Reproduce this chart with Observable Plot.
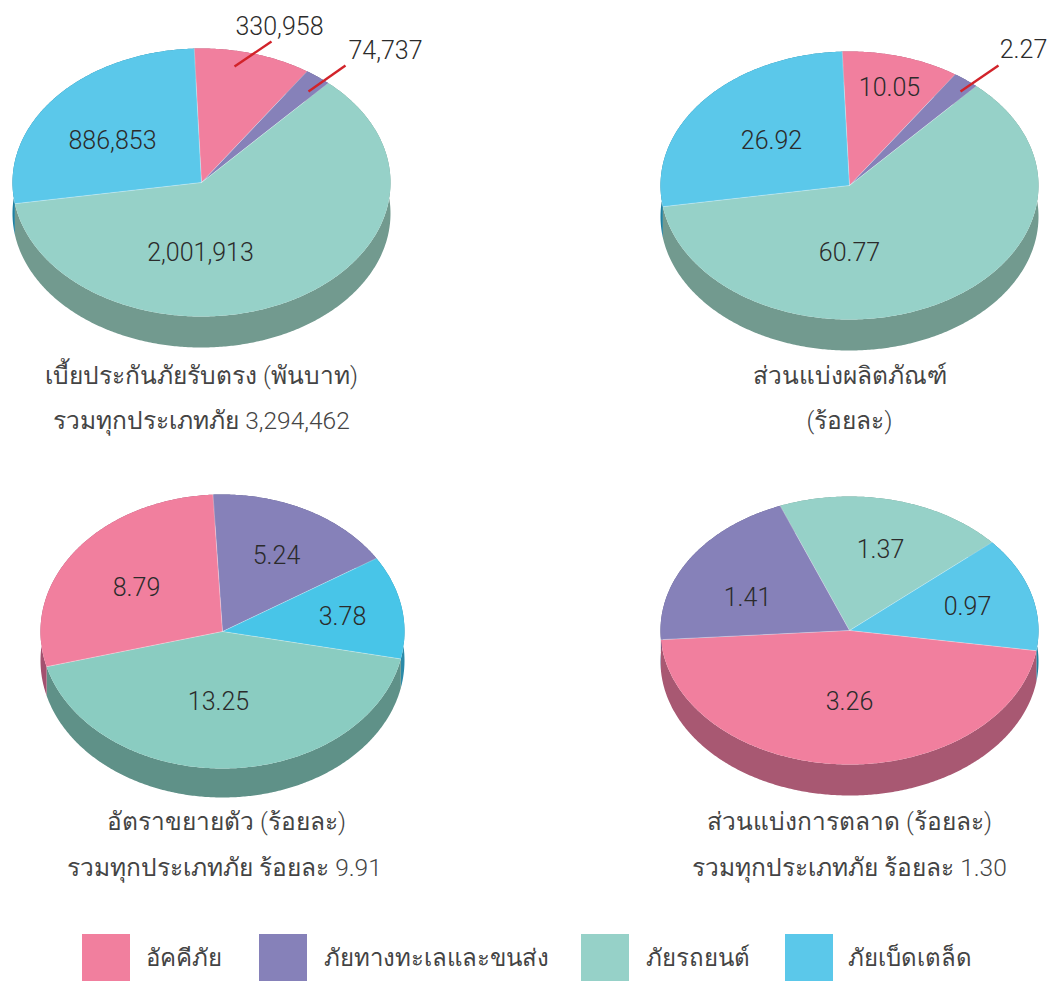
<!DOCTYPE html>
<html>
<head>
<meta charset="utf-8">
<script src="https://cdn.jsdelivr.net/npm/d3@7"></script>
<script src="https://cdn.jsdelivr.net/npm/@observablehq/plot@0.6"></script>
<style>html,body{margin:0;padding:0;background:#fff}svg{display:block}</style>
</head>
<body>
<div id="chart"></div>
<script>
// ---- data ----
const categories = ["อัคคีภัย", "ภัยทางทะเลและขนส่ง", "ภัยรถยนต์", "ภัยเบ็ดเตล็ด"];
const premiums = [330958, 74737, 2001913, 886853];
const shares = [10.05, 2.27, 60.77, 26.92];
const growth = [8.79, 5.24, 13.25, 3.78];
const marketShare = [3.26, 1.41, 1.37, 0.97];
const premiumLabels = ["330,958", "74,737", "2,001,913", "886,853"];
const shareLabels = ["10.05", "2.27", "60.77", "26.92"];
const growthLabels = ["8.79", "5.24", "13.25", "3.78"];
const marketLabels = ["3.26", "1.41", "1.37", "0.97"];
const titles = [
  ["เบี้ยประกันภัยรับตรง (พันบาท)", "รวมทุกประเภทภัย 3,294,462"],
  ["ส่วนแบ่งผลิตภัณฑ์", "(ร้อยละ)"],
  ["อัตราขยายตัว (ร้อยละ)", "รวมทุกประเภทภัย ร้อยละ 9.91"],
  ["ส่วนแบ่งการตลาด (ร้อยละ)", "รวมทุกประเภทภัย ร้อยละ 1.30"]
];

// ---- styles & layout ----
const topColors = ["#f17f9e", "#8681b9", "#96d1c8", "#5bc8ea"];
const sideColors = ["#a85872", "#5c5a85", "#729a8f", "#1f80a0"];
const top3 = ["#f17f9e", "#8681b9", "#8accc1", "#48c5e8"];
const side3 = ["#a3506f", "#5c5a85", "#5f9188", "#2b8aa8"];
const ink = "#2b2b2b";
const titleInk = "#444444";
const font = "Roboto, 'Noto Sans', sans-serif";
const layout = [
  {values: premiums, labels: premiumLabels, order: [0,1,2,3], start: -2.2, cx: 201, cy: 182, rx: 189, ry: 134, depth: 31, top: topColors, side: sideColors,
   titleX: [201, 201], titleY: [376, 421],
   anchors: [[279,26],[385,50],[200,252],[112,140]], leaders: [[234,66,271,41],[308,91,345,65]]},
  {values: shares, labels: shareLabels, order: [0,1,2,3], start: -2.2, cx: 849, cy: 185, rx: 189, ry: 134, depth: 31, top: topColors, side: sideColors,
   titleX: [849, 849], titleY: [376, 421],
   anchors: [[889,87],[1023,49],[849,252],[771,140]], leaders: [[960,91,998,65]]},
  {values: growth, labels: growthLabels, order: [1,3,2,0], start: -3, cx: 222, cy: 631, rx: 182, ry: 137, depth: 29, top: top3, side: side3,
   titleX: [226, 224], titleY: [822, 868],
   anchors: [[136,587],[276,555],[218,701],[342,616]], leaders: []},
  {values: marketShare, labels: marketLabels, order: [2,3,0,1], start: -21.5, cx: 849, cy: 630, rx: 189, ry: 134, depth: 31, top: topColors, side: sideColors,
   titleX: [849, 849], titleY: [822, 868],
   anchors: [[849,701],[747,597],[880,549],[967,606]], leaders: []}
];
const legendLayout = {x: [82, 259, 581, 785], w: 48, y1: 934, y2: 981, textX: [145, 323, 645, 847], textY: 958};

// ---- geometry from values ----
const tops = [], sides = [], seams = [], labels = [], leaders = [], titleRows = [];
layout.forEach((p, pi) => {
  const startRad = p.start * Math.PI / 180;
  const arcs = d3.pie().sort(null).startAngle(startRad).endAngle(startRad + 2 * Math.PI)(p.order.map(i => p.values[i]));
  arcs.forEach((a, k) => {
    const cat = p.order[k];
    const n = Math.max(2, Math.ceil((a.endAngle - a.startAngle) / 0.01));
    const rim = d3.range(n + 1).map(j => {
      const t = a.startAngle + (a.endAngle - a.startAngle) * j / n;
      return [p.cx + p.rx * Math.sin(t), p.cy - p.ry * Math.cos(t)];
    });
    const key = pi + "-" + cat;
    sides.push(...rim.map(([x, y]) => ({x, y, key, fill: p.side[cat]})));
    sides.push(...rim.slice().reverse().map(([x, y]) => ({x, y: y + p.depth, key, fill: p.side[cat]})));
    tops.push({x: p.cx, y: p.cy, key, fill: p.top[cat]});
    tops.push(...rim.map(([x, y]) => ({x, y, key, fill: p.top[cat]})));
    seams.push({x1: p.cx, y1: p.cy, x2: rim[0][0], y2: rim[0][1]});
    labels.push({x: p.anchors[cat][0], y: p.anchors[cat][1], text: p.labels[cat]});
  });
  p.leaders.forEach(([x1, y1, x2, y2]) => leaders.push({x1, y1, x2, y2}));
  titles[pi].forEach((text, i) => titleRows.push({x: p.titleX[i], y: p.titleY[i], text}));
});
const legendRows = categories.map((name, i) => ({
  name, fill: topColors[i],
  x1: legendLayout.x[i], x2: legendLayout.x[i] + legendLayout.w,
  y1: legendLayout.y1, y2: legendLayout.y2,
  tx: legendLayout.textX[i], ty: legendLayout.textY
}));

const chart = Plot.plot({
  width: 1049, height: 989, margin: 0,
  style: {background: "#fff", fontFamily: font},
  x: {domain: [0, 1049], range: [0, 1049], axis: null},
  y: {domain: [0, 989], range: [0, 989], axis: null},
  color: {type: "identity"},
  marks: [
    Plot.line(sides, {x: "x", y: "y", z: "key", fill: "fill", stroke: "none", curve: "linear"}),
    Plot.line(tops, {x: "x", y: "y", z: "key", fill: "fill", stroke: "none", curve: "linear"}),
    Plot.link(seams, {x1: "x1", y1: "y1", x2: "x2", y2: "y2", stroke: "#fff", strokeOpacity: 0.45, strokeWidth: 0.7}),
    Plot.link(leaders, {x1: "x1", y1: "y1", x2: "x2", y2: "y2", stroke: "#d2232a", strokeWidth: 2.4}),
    Plot.text(labels, {x: "x", y: "y", text: "text", fontSize: 25, fontWeight: 300, fill: ink, textAnchor: "middle", lineAnchor: "middle", fontFamily: font}),
    Plot.text(titleRows, {x: "x", y: "y", text: "text", fontSize: 24.5, fontWeight: 300, fill: titleInk, textAnchor: "middle", lineAnchor: "middle", fontFamily: font}),
    Plot.rect(legendRows, {x1: "x1", x2: "x2", y1: "y1", y2: "y2", fill: "fill"}),
    Plot.text(legendRows, {x: "tx", y: "ty", text: "name", fontSize: 24, fontWeight: 300, fill: titleInk, textAnchor: "start", lineAnchor: "middle", fontFamily: font})
  ]
});
document.getElementById("chart").append(chart);
</script>
</body>
</html>
